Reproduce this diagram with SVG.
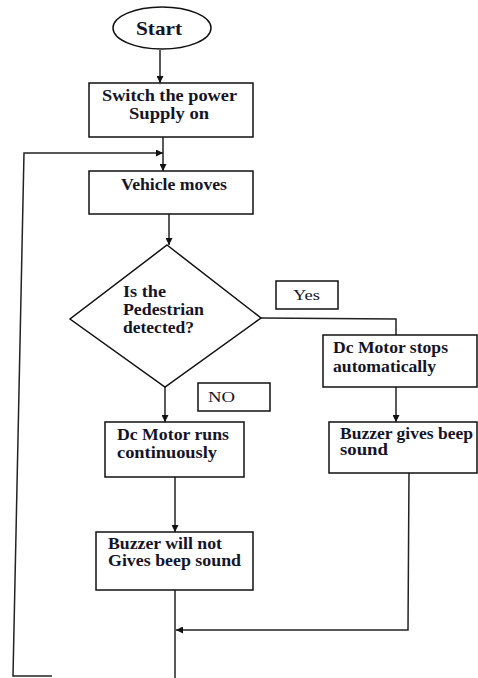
<svg xmlns="http://www.w3.org/2000/svg" width="478" height="678" viewBox="0 0 478 678">
<style>
.shape{fill:#fff;stroke:#111;stroke-width:1.5}
.conn{fill:none;stroke:#222;stroke-width:1.5}
.t{font-family:"Liberation Serif","Times New Roman",serif;font-weight:bold;font-size:16px;fill:#141428}
.n{font-family:"Liberation Serif","Times New Roman",serif;font-size:15px;fill:#141428}
</style>
<defs>
<marker id="ah" viewBox="0 0 10 10" refX="10" refY="5" markerWidth="7" markerHeight="7" orient="auto" markerUnits="userSpaceOnUse">
<path d="M0,0 L10,5 L0,10 z" fill="#111"/>
</marker>
</defs>
<rect width="478" height="678" fill="#fff"/>
<g id="connectors">
<line class="conn" x1="160" y1="50" x2="160" y2="83" marker-end="url(#ah)"/>
<line class="conn" x1="163" y1="137" x2="163" y2="171" marker-end="url(#ah)"/>
<polyline class="conn" points="52,676 13,676 24,153 163,153" marker-end="url(#ah)"/>
<line class="conn" x1="169" y1="214" x2="169" y2="245" marker-end="url(#ah)"/>
<line class="conn" x1="165" y1="387" x2="165" y2="422" marker-end="url(#ah)"/>
<polyline class="conn" points="261,318 396,319 396,335"/>
<line class="conn" x1="396" y1="387" x2="396" y2="422" marker-end="url(#ah)"/>
<line class="conn" x1="175" y1="477" x2="175" y2="532" marker-end="url(#ah)"/>
<line class="conn" x1="175" y1="590" x2="175" y2="678"/>
<polyline class="conn" points="409,473 408,630 176,630" marker-end="url(#ah)"/>
</g>
<g id="start">
<ellipse class="shape" cx="162" cy="28" rx="49" ry="21"/>
<text class="t" x="136" y="35" style="font-size:19px" textLength="46" lengthAdjust="spacingAndGlyphs">Start</text>
</g>
<g id="switch">
<rect class="shape" x="89" y="83" width="164" height="54"/>
<text class="t" x="102" y="101" textLength="135" lengthAdjust="spacingAndGlyphs">Switch the power</text>
<text class="t" x="129" y="119" textLength="80" lengthAdjust="spacingAndGlyphs">Supply on</text>
</g>
<g id="vehicle">
<rect class="shape" x="89" y="171" width="164" height="43"/>
<text class="t" x="121" y="190" textLength="106" lengthAdjust="spacingAndGlyphs">Vehicle moves</text>
</g>
<g id="decision">
<polygon class="shape" points="167,245 261,318 165,387 70,319"/>
<text class="t" x="123" y="297" textLength="43" lengthAdjust="spacingAndGlyphs">Is the</text>
<text class="t" x="123" y="315" textLength="81" lengthAdjust="spacingAndGlyphs">Pedestrian</text>
<text class="t" x="123" y="333" textLength="71" lengthAdjust="spacingAndGlyphs">detected?</text>
</g>
<g id="yes-label">
<rect class="shape" x="276" y="281" width="62" height="28"/>
<text class="n" x="293" y="300" textLength="27" lengthAdjust="spacingAndGlyphs">Yes</text>
</g>
<g id="no-label">
<rect class="shape" x="198" y="383" width="72" height="28"/>
<text class="n" x="208" y="402" textLength="27" lengthAdjust="spacingAndGlyphs">NO</text>
</g>
<g id="motor-stops">
<rect class="shape" x="323" y="335" width="154" height="52"/>
<text class="t" x="333" y="353" textLength="115" lengthAdjust="spacingAndGlyphs">Dc Motor stops</text>
<text class="t" x="333" y="372" textLength="103" lengthAdjust="spacingAndGlyphs">automatically</text>
</g>
<g id="buzzer-gives">
<rect class="shape" x="329" y="422" width="148" height="51"/>
<text class="t" x="340" y="439" textLength="133" lengthAdjust="spacingAndGlyphs">Buzzer gives beep</text>
<text class="t" x="340" y="455" textLength="48" lengthAdjust="spacingAndGlyphs">sound</text>
</g>
<g id="motor-runs">
<rect class="shape" x="105" y="422" width="139" height="55"/>
<text class="t" x="117" y="440" textLength="112" lengthAdjust="spacingAndGlyphs">Dc Motor runs</text>
<text class="t" x="117" y="458" textLength="100" lengthAdjust="spacingAndGlyphs">continuously</text>
</g>
<g id="buzzer-not">
<rect class="shape" x="96" y="532" width="157" height="58"/>
<text class="t" x="108" y="549" textLength="114" lengthAdjust="spacingAndGlyphs">Buzzer will not</text>
<text class="t" x="108" y="566" textLength="133" lengthAdjust="spacingAndGlyphs">Gives beep sound</text>
</g>
</svg>
